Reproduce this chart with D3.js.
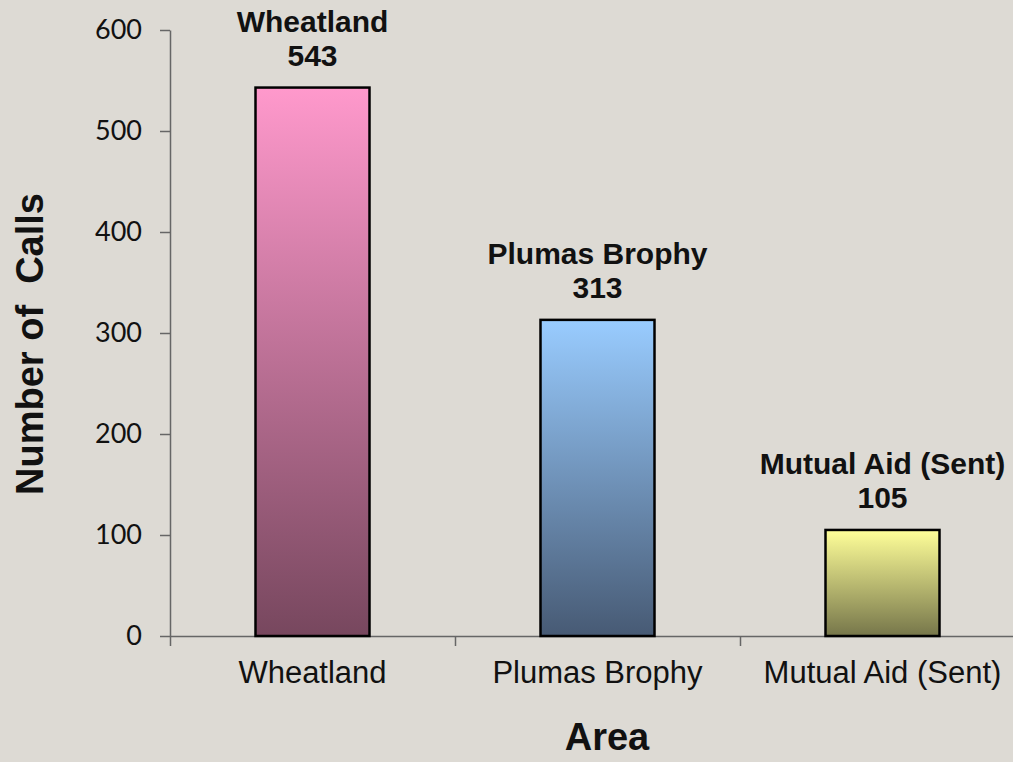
<!DOCTYPE html>
<html>
<head>
<meta charset="utf-8">
<script src="https://cdn.jsdelivr.net/npm/d3@7"></script>
<style>
  body { margin: 0; background: #dddad4; }
  svg { display: block; }
</style>
</head>
<body>
<svg id="chart" width="1013" height="762"></svg>
<script>
// data
var categories = ["Wheatland", "Plumas Brophy", "Mutual Aid (Sent)"];
var calls = [543, 313, 105];
var yTicks = [0, 100, 200, 300, 400, 500, 600];
var topColors = ["#ff99cc", "#99ccff", "#ffff99"];
var bottomColors = ["#77475e", "#475a74", "#76764a"];

var svg = d3.select("#chart"),
    plotLeft = 170, plotRight = 1025, plotTop = 30, plotBottom = 636;

var x = d3.scaleBand()
    .domain(categories)
    .range([plotLeft, plotRight])
    .paddingInner(0.6)
    .paddingOuter(0.3);

var y = d3.scaleLinear()
    .domain([0, 600])
    .range([plotBottom, plotTop]);

// gradients for each bar
var defs = svg.append("defs");
categories.forEach(function (c, i) {
    var g = defs.append("linearGradient")
        .attr("id", "grad" + i)
        .attr("x1", 0).attr("y1", 0).attr("x2", 0).attr("y2", 1);
    g.append("stop").attr("offset", "0%").attr("stop-color", topColors[i]);
    g.append("stop").attr("offset", "100%").attr("stop-color", bottomColors[i]);
});

// y axis
var yAxis = svg.append("g")
    .attr("transform", "translate(" + plotLeft + ",0)")
    .call(d3.axisLeft(y).tickValues(yTicks).tickSize(10).tickSizeOuter(0).tickPadding(18));
yAxis.selectAll("text")
    .attr("font-family", "Lato, 'Open Sans', sans-serif")
    .attr("font-size", 27)
    .attr("fill", "#111");

// x axis: boundary ticks
var xb = d3.scaleLinear().domain([0, categories.length]).range([plotLeft, plotRight]);
svg.append("g")
    .attr("transform", "translate(0," + plotBottom + ")")
    .call(d3.axisBottom(xb).ticks(categories.length).tickFormat("").tickSize(10).tickSizeOuter(0));

// x category labels
svg.append("g")
    .attr("transform", "translate(0," + plotBottom + ")")
    .call(d3.axisBottom(x).tickSize(0).tickPadding(25))
    .call(function (g) { g.select(".domain").remove(); })
    .selectAll("text")
    .attr("font-family", "'Liberation Sans', Arial, sans-serif")
    .attr("font-size", 31)
    .attr("fill", "#111");

svg.selectAll(".domain, .tick line")
    .attr("stroke", "#666")
    .attr("stroke-width", 1.5);

// bars
svg.append("g").selectAll("rect")
    .data(calls)
    .join("rect")
    .attr("x", function (d, i) { return x(categories[i]); })
    .attr("y", function (d) { return y(d); })
    .attr("width", x.bandwidth())
    .attr("height", function (d) { return y(0) - y(d); })
    .attr("fill", function (d, i) { return "url(#grad" + i + ")"; })
    .attr("stroke", "#000")
    .attr("stroke-width", 2.5);

// data labels
var labels = svg.append("g")
    .attr("font-family", "'Liberation Sans', Arial, sans-serif")
    .attr("font-weight", "bold")
    .attr("font-size", 30)
    .attr("text-anchor", "middle")
    .attr("fill", "#111");

labels.selectAll("text.name")
    .data(calls)
    .join("text")
    .attr("class", "name")
    .attr("x", function (d, i) { return x(categories[i]) + x.bandwidth() / 2; })
    .attr("y", function (d) { return y(d) - 56; })
    .text(function (d, i) { return categories[i]; });

labels.selectAll("text.val")
    .data(calls)
    .join("text")
    .attr("class", "val")
    .attr("x", function (d, i) { return x(categories[i]) + x.bandwidth() / 2; })
    .attr("y", function (d) { return y(d) - 22; })
    .text(function (d) { return d; });

// axis titles
svg.append("text")
    .attr("x", 607)
    .attr("y", 750)
    .attr("text-anchor", "middle")
    .attr("font-family", "'Liberation Sans', Arial, sans-serif")
    .attr("font-weight", "bold")
    .attr("font-size", 38)
    .attr("fill", "#111")
    .text("Area");

svg.append("text")
    .attr("transform", "translate(43,344) rotate(-90)")
    .attr("text-anchor", "middle")
    .attr("font-family", "'Liberation Sans', Arial, sans-serif")
    .attr("font-weight", "bold")
    .attr("font-size", 38)
    .attr("fill", "#111")
    .style("white-space", "pre")
    .text("Number of  Calls");
</script>
</body>
</html>
